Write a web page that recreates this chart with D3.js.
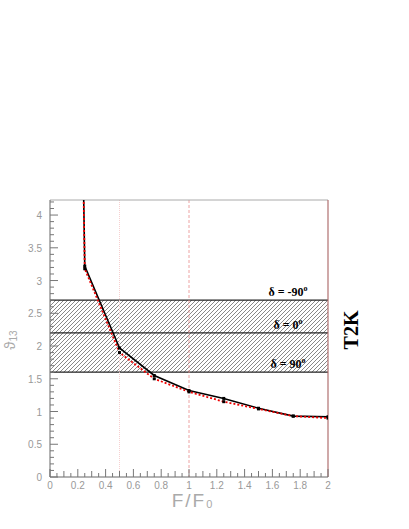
<!DOCTYPE html>
<html>
<head>
<meta charset="utf-8">
<script src="https://cdn.jsdelivr.net/npm/d3@7"></script>
<style>
  body { margin: 0; background: #fff; }
  text { font-family: "Liberation Sans", Arial, sans-serif; }
</style>
</head>
<body>
<div id="graph"></div>
<script>
var width = 409, height = 529

// F/F0 values and theta13 limits
var flux = [0.2, 0.25, 0.5, 0.75, 1.0, 1.25, 1.5, 1.75, 2.0]
var thetaBlack = [10, 3.22, 1.97, 1.55, 1.32, 1.2, 1.05, 0.93, 0.92]
var thetaRed = [10, 3.18, 1.9, 1.5, 1.3, 1.15, 1.04, 0.93, 0.9]

// delta band
var bandLo = 1.6, bandMid = 2.2, bandHi = 2.7
var deltaLabels = [['δ = -90', bandHi], ['δ = 0', bandMid], ['δ = 90', bandLo]]

var xTicks = [0, 0.2, 0.4, 0.6, 0.8, 1, 1.2, 1.4, 1.6, 1.8, 2]
var yTicks = [0, 0.5, 1, 1.5, 2, 2.5, 3, 3.5, 4]

var x = d3.scaleLinear().domain([0, 2]).range([50, 328])
var y = d3.scaleLinear().domain([0, 4.23]).range([477, 200])

var svg = d3.select('#graph').append('svg')
    .attr('width', width).attr('height', height)

var defs = svg.append('defs')
var pat = defs.append('pattern')
    .attr('id', 'hatch').attr('patternUnits', 'userSpaceOnUse')
    .attr('width', 4).attr('height', 4)
pat.append('path').attr('d', 'M-1,1 l2,-2 M0,4 l4,-4 M3,5 l2,-2')
    .attr('stroke', '#555').attr('stroke-width', 0.7)

defs.append('clipPath').attr('id', 'clip').append('rect')
    .attr('x', x(0)).attr('y', y(4.23)).attr('width', x(2) - x(0)).attr('height', y(0) - y(4.23))

// hatched band
svg.append('rect')
    .attr('x', x(0)).attr('y', y(bandHi))
    .attr('width', x(2) - x(0)).attr('height', y(bandLo) - y(bandHi))
    .attr('fill', 'url(#hatch)')
;[bandLo, bandMid, bandHi].forEach(function(v){
  svg.append('line')
      .attr('x1', x(0)).attr('x2', x(2)).attr('y1', y(v)).attr('y2', y(v))
      .attr('stroke', '#222').attr('stroke-width', 1.3)
})

// reference verticals
svg.append('line').attr('x1', x(0.5)).attr('x2', x(0.5)).attr('y1', y(4.23)).attr('y2', y(0))
    .attr('stroke', '#f5c4c4').attr('stroke-width', 0.8).attr('stroke-dasharray', '1,1')
svg.append('line').attr('x1', x(1)).attr('x2', x(1)).attr('y1', y(4.23)).attr('y2', y(0))
    .attr('stroke', '#e88a8a').attr('stroke-width', 0.8).attr('stroke-dasharray', '3,2')

// frame
svg.append('line').attr('x1', x(0)).attr('x2', x(2)).attr('y1', y(4.23)).attr('y2', y(4.23))
    .attr('stroke', '#aaa')
svg.append('line').attr('x1', x(2)).attr('x2', x(2)).attr('y1', y(4.23)).attr('y2', y(0))
    .attr('stroke', '#b07070').attr('stroke-width', 1.2)

// axes with inward ticks
var gx = svg.append('g').attr('transform', 'translate(0,' + y(0) + ')')
gx.append('line').attr('x1', x(0)).attr('x2', x(2)).attr('stroke', '#666')
d3.range(0, 41).forEach(function(i){
  var len = i % 4 == 0 ? 8 : (i % 2 == 0 ? 6 : 4)
  gx.append('line').attr('x1', x(i * 0.05)).attr('x2', x(i * 0.05))
      .attr('y1', 0).attr('y2', -len).attr('stroke', '#777')
})
gx.selectAll('text.tick').data(xTicks).enter().append('text')
    .attr('x', function(d){ return x(d) }).attr('y', 12)
    .attr('text-anchor', 'middle').attr('font-size', 10).attr('fill', '#999')
    .text(function(d){ return d })

var gy = svg.append('g').attr('transform', 'translate(' + x(0) + ',0)')
gy.append('line').attr('y1', y(0)).attr('y2', y(4.23)).attr('stroke', '#666')
d3.range(0, 43).forEach(function(i){
  var len = i % 5 == 0 ? 8 : 4
  gy.append('line').attr('y1', y(i * 0.1)).attr('y2', y(i * 0.1))
      .attr('x1', 0).attr('x2', len).attr('stroke', '#777')
})
gy.selectAll('text.tick').data(yTicks).enter().append('text')
    .attr('x', -8).attr('y', function(d){ return y(d) + 4 })
    .attr('text-anchor', 'end').attr('font-size', 10).attr('fill', '#999')
    .text(function(d){ return d })

// axis titles
svg.append('text').attr('x', 193).attr('y', 507).attr('text-anchor', 'middle')
    .attr('font-size', 19).attr('fill', '#aaa').attr('letter-spacing', 2)
    .style('font-weight', 300)
    .html('F/F<tspan font-size="11" dy="1">0</tspan>')
svg.append('text').attr('transform', 'translate(15,340) rotate(-90)')
    .attr('text-anchor', 'middle').attr('font-size', 15).attr('fill', '#aaa')
    .html('ϑ<tspan font-size="10" dy="2">13</tspan>')

// curves
var line = d3.line().x(function(d){ return x(d[0]) }).y(function(d){ return y(d[1]) })
var plot = svg.append('g').attr('clip-path', 'url(#clip)')
var redPts = flux.map(function(f, i){ return [f, thetaRed[i]] })
var blackPts = flux.map(function(f, i){ return [f, thetaBlack[i]] })

plot.append('path').datum(blackPts).attr('d', line)
    .attr('fill', 'none').attr('stroke', '#000').attr('stroke-width', 1.6)
plot.append('path').datum(redPts).attr('d', line)
    .attr('fill', 'none').attr('stroke', '#e00').attr('stroke-width', 1.8)
    .attr('stroke-dasharray', '2,2')
;[blackPts, redPts].forEach(function(pts){
  plot.selectAll(null).data(pts.slice(1)).enter().append('rect')
      .attr('x', function(d){ return x(d[0]) - 1.5 }).attr('y', function(d){ return y(d[1]) - 1.5 })
      .attr('width', 3).attr('height', 3).attr('fill', '#000')
})

// delta labels
svg.selectAll('text.delta').data(deltaLabels).enter().append('text')
    .attr('x', 288).attr('y', function(d){ return y(d[1]) - 4 })
    .attr('text-anchor', 'middle')
    .style('font-family', '"Liberation Serif", "Times New Roman", serif')
    .attr('font-weight', 'bold').attr('font-size', 12).attr('fill', '#000')
    .html(function(d){ return d[0] + '<tspan font-size="8" dy="-5">o</tspan>' })

svg.append('text').attr('transform', 'translate(358,330) rotate(-90)')
    .attr('text-anchor', 'middle')
    .style('font-family', '"Liberation Serif", "Times New Roman", serif')
    .attr('font-weight', 'bold').attr('font-size', 20).attr('fill', '#000')
    .text('T2K')
</script>
</body>
</html>
